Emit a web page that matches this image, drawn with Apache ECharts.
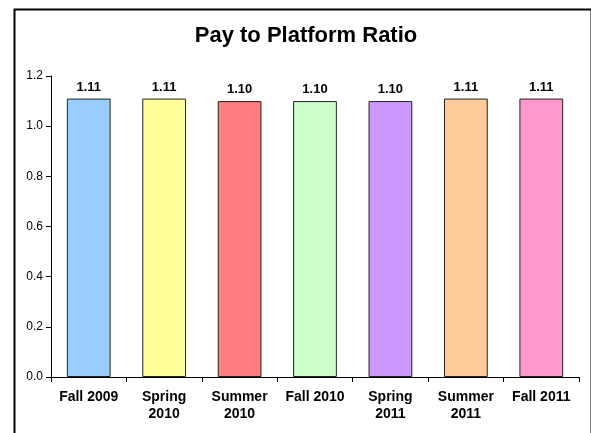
<!DOCTYPE html>
<html>
<head>
<meta charset="utf-8">
<script src="https://cdn.jsdelivr.net/npm/echarts@6/dist/echarts.min.js"></script>
<style>
  html, body { margin: 0; padding: 0; background: #fff; }
  #chart { width: 591px; height: 433px; }
</style>
</head>
<body>
<div id="chart"></div>
<script>
const categories = ['Fall 2009', 'Spring\n2010', 'Summer\n2010', 'Fall 2010', 'Spring\n2011', 'Summer\n2011', 'Fall 2011']
const values = [1.11, 1.11, 1.10, 1.10, 1.10, 1.11, 1.11]
const barColors = ['#99CCFF', '#FFFF99', '#FF7C80', '#CCFFCC', '#CC99FF', '#FFCC99', '#FF99CC']

const font = 'Liberation Sans, Arial, sans-serif'
const chart = echarts.init(document.getElementById('chart'), null, { renderer: 'canvas' })

chart.setOption({
  animation: false,
  backgroundColor: '#fff',
  graphic: [{
    type: 'rect',
    left: 12, top: 7,
    shape: { width: 577, height: 440 },
    style: { fill: 'none', stroke: '#000', lineWidth: 2 },
    silent: true
  }],
  title: {
    text: 'Pay to Platform Ratio',
    left: 301,
    textAlign: 'center',
    top: 20,
    textStyle: { fontFamily: font, fontSize: 22, fontWeight: 'bold', color: '#000' }
  },
  grid: { left: 51, right: 12, top: 76, bottom: 56 },
  xAxis: {
    type: 'category',
    data: categories,
    axisLine: { lineStyle: { color: '#000', width: 1 } },
    axisTick: { show: true, alignWithLabel: false, length: 5, lineStyle: { color: '#000' } },
    axisLabel: {
      interval: 0, margin: 12,
      fontFamily: font, fontSize: 14, fontWeight: 'bold', color: '#000', lineHeight: 17
    }
  },
  yAxis: {
    type: 'value',
    min: 0, max: 1.2, interval: 0.2,
    splitLine: { show: false },
    axisLine: { show: true, lineStyle: { color: '#000', width: 1 } },
    axisTick: { show: true, length: 5, lineStyle: { color: '#000' } },
    axisLabel: {
      fontFamily: font, fontSize: 12, color: '#000', margin: 8,
      formatter: v => v.toFixed(1)
    }
  },
  series: [{
    type: 'bar',
    data: values.map((v, i) => ({ value: v, itemStyle: { color: barColors[i] } })),
    barWidth: '58%',
    itemStyle: { borderColor: '#222', borderWidth: 1 },
    label: {
      show: true, position: 'top', distance: 5,
      fontFamily: font, fontSize: 13, fontWeight: 'bold', color: '#000',
      formatter: p => p.value.toFixed(2)
    }
  }]
})
</script>
</body>
</html>
